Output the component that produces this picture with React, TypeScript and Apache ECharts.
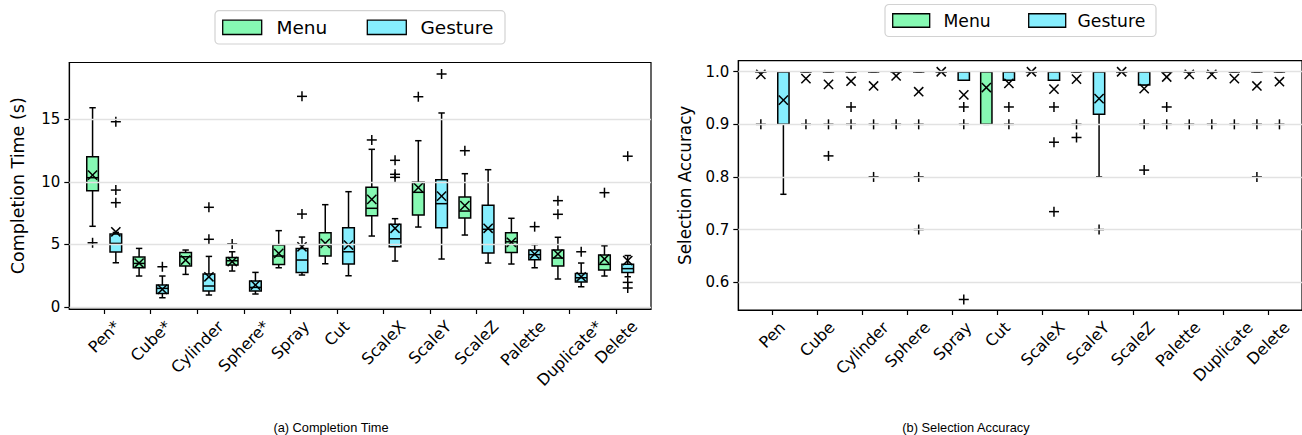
import React, { useEffect, useRef } from 'react';
import * as echarts from 'echarts';

const timeCategories = ['Pen*', 'Cube*', 'Cylinder', 'Sphere*', 'Spray', 'Cut', 'ScaleX', 'ScaleY', 'ScaleZ', 'Palette', 'Duplicate*', 'Delete'];
const accCategories = ['Pen', 'Cube', 'Cylinder', 'Sphere', 'Spray', 'Cut', 'ScaleX', 'ScaleY', 'ScaleZ', 'Palette', 'Duplicate', 'Delete'];
const seriesNames = ['Menu', 'Gesture'];

const timeTicks = [0, 5, 10, 15];
const accTicks = [0.6, 0.7, 0.8, 0.9, 1.0];

// [lower whisker, q1, median, q3, upper whisker]
const timeMenuBoxes = [
  [6.44, 9.29, 10.33, 12.01, 15.93],
  [2.46, 3.12, 3.47, 3.98, 4.67],
  [2.59, 3.26, 4.0, 4.35, 4.54],
  [2.86, 3.34, 3.68, 3.95, 4.4],
  [3.12, 3.39, 4.06, 4.94, 6.09],
  [3.44, 4.06, 4.94, 5.93, 8.17],
  [5.66, 7.29, 7.88, 9.56, 12.6],
  [6.38, 7.34, 9.16, 9.96, 13.29],
  [5.74, 7.1, 7.66, 8.78, 10.65],
  [3.42, 4.35, 5.2, 5.93, 7.08],
  [2.22, 3.26, 3.9, 4.54, 5.56],
  [2.46, 2.94, 3.39, 4.14, 4.88],
];
const timeMenuMeans = [10.54, 3.5, 3.74, 3.62, 4.27, 5.07, 8.6, 9.53, 8.09, 5.16, 4.22, 3.82];
const timeMenuOutliers = [[5.12], [], [], [5.02], [], [], [13.35], [16.81], [12.49], [], [8.49, 7.4], [9.13]];

const timeGestureBoxes = [
  [3.52, 4.38, 5.07, 5.82, 5.95],
  [0.72, 1.07, 1.47, 1.74, 2.46],
  [0.94, 1.26, 1.66, 2.62, 4.03],
  [1.02, 1.26, 1.55, 2.06, 2.75],
  [2.54, 2.75, 3.74, 4.67, 5.58],
  [2.48, 3.42, 4.4, 6.33, 9.21],
  [3.66, 4.8, 5.44, 6.6, 7.05],
  [3.82, 6.33, 8.25, 10.17, 15.51],
  [3.5, 4.3, 6.2, 8.12, 10.97],
  [3.12, 3.77, 4.17, 4.54, 4.97],
  [1.6, 1.98, 2.32, 2.67, 3.5],
  [2.4, 2.75, 3.05, 3.4, 4.1],
];
const timeGestureMeans = [6.0, 1.4, 2.4, 1.74, 4.8, 4.94, 6.28, 8.86, 6.28, 4.22, 2.4, 3.7];
const timeGestureOutliers = [[14.81, 9.34, 8.33], [3.2], [7.96, 5.4], [], [16.84, 7.42], [], [11.72, 10.6, 10.36], [18.63], [], [6.41], [4.4], [12.05, 1.95, 1.5]];

const accMenuBoxes = [
  [1, 1, 1, 1, 1],
  [1, 1, 1, 1, 1],
  [1, 1, 1, 1, 1],
  [1, 1, 1, 1, 1],
  [1, 1, 1, 1, 1],
  [0.9, 0.9, 1, 1, 1],
  [1, 1, 1, 1, 1],
  [1, 1, 1, 1, 1],
  [1, 1, 1, 1, 1],
  [1, 1, 1, 1, 1],
  [1, 1, 1, 1, 1],
  [1, 1, 1, 1, 1],
];
const accMenuMeans = [0.995, 0.987, 0.982, 0.992, 1.0, 0.97, 1.0, 0.986, 1.0, 0.99, 0.995, 0.973];
const accMenuOutliers = [[0.9], [0.9], [0.933, 0.9], [0.9], [], [], [], [0.9, 0.875], [], [0.933, 0.9], [0.9], [0.9, 0.8]];

const accGestureBoxes = [
  [0.767, 0.9, 1, 1, 1],
  [1, 1, 1, 1, 1],
  [1, 1, 1, 1, 1],
  [1, 1, 1, 1, 1],
  [0.984, 0.984, 1, 1, 1],
  [0.984, 0.984, 1, 1, 1],
  [0.984, 0.984, 1, 1, 1],
  [0.8, 0.919, 1, 1, 1],
  [0.975, 0.975, 1, 1, 1],
  [1, 1, 1, 1, 1],
  [1, 1, 1, 1, 1],
  [1, 1, 1, 1, 1],
];
const accGestureMeans = [0.946, 0.976, 0.973, 0.962, 0.956, 0.978, 0.967, 0.949, 0.968, 0.995, 0.987, 0.981];
const accGestureOutliers = [[], [0.9, 0.84], [0.9, 0.8], [0.9, 0.8, 0.7], [0.933, 0.9, 0.567], [0.933, 0.9], [0.933, 0.866, 0.734], [0.7], [0.9, 0.813], [0.9], [0.9], [0.9]];

const MENU_COLOR = '#86F9B3';
const GESTURE_COLOR = '#86EEFE';
const BOX_W = 0.25;
const OFFSETS = [-0.25, 0.25];
const FONT = '"DejaVu Sans", sans-serif';

const boxItems = (boxes: number[][], off: number) => boxes.map((b, i) => [i + 1 + off, ...b]);
const pointItems = (vals: number[], off: number) => vals.map((v, i) => [i + 1 + off, v]);
const outlierItems = (lists: number[][], off: number) => {
  const out: number[][] = [];
  lists.forEach((l, i) => l.forEach((v) => out.push([i + 1 + off, v])));
  return out;
};

const renderBox = (params: any, api: any) => {
  const x = api.value(0);
  const low = api.value(1), q1 = api.value(2), med = api.value(3), q3 = api.value(4), high = api.value(5);
  const half = api.size([BOX_W, 0])[0] / 2;
  const capHalf = half * 0.55;
  const pLow = api.coord([x, low]);
  const pQ1 = api.coord([x, q1]);
  const pMed = api.coord([x, med]);
  const pQ3 = api.coord([x, q3]);
  const pHigh = api.coord([x, high]);
  const cx = pMed[0];
  const st = { stroke: '#000', lineWidth: 1.5 };
  return {
    type: 'group',
    children: [
      { type: 'line', shape: { x1: cx, y1: pQ3[1], x2: cx, y2: pHigh[1] }, style: st },
      { type: 'line', shape: { x1: cx, y1: pQ1[1], x2: cx, y2: pLow[1] }, style: st },
      { type: 'line', shape: { x1: cx - capHalf, y1: pHigh[1], x2: cx + capHalf, y2: pHigh[1] }, style: st },
      { type: 'line', shape: { x1: cx - capHalf, y1: pLow[1], x2: cx + capHalf, y2: pLow[1] }, style: st },
      {
        type: 'rect',
        shape: { x: cx - half, y: pQ3[1], width: 2 * half, height: pQ1[1] - pQ3[1] },
        style: { fill: api.visual('color'), stroke: '#000', lineWidth: 1.5 },
      },
      { type: 'line', shape: { x1: cx - half, y1: pMed[1], x2: cx + half, y2: pMed[1] }, style: st },
    ],
  };
};

const renderMarker = (kind: string) => (params: any, api: any) => {
  const p = api.coord([api.value(0), api.value(1)]);
  const st = { stroke: '#000', lineWidth: 1.5 };
  if (kind === 'x') {
    const s = 4.6;
    return {
      type: 'group',
      children: [
        { type: 'line', shape: { x1: p[0] - s, y1: p[1] - s, x2: p[0] + s, y2: p[1] + s }, style: st },
        { type: 'line', shape: { x1: p[0] - s, y1: p[1] + s, x2: p[0] + s, y2: p[1] - s }, style: st },
      ],
    };
  }
  const s = 5;
  return {
    type: 'group',
    children: [
      { type: 'line', shape: { x1: p[0] - s, y1: p[1], x2: p[0] + s, y2: p[1] }, style: st },
      { type: 'line', shape: { x1: p[0], y1: p[1] - s, x2: p[0], y2: p[1] + s }, style: st },
    ],
  };
};

const chartSeries = (k: number, boxesArr: number[][][], meansArr: number[][], outArr: number[][][], ticks: number[]) => {
  const list: any[] = [
    {
      type: 'line',
      xAxisIndex: k,
      yAxisIndex: k,
      data: [],
      z: 0,
      markLine: {
        silent: true,
        symbol: ['none', 'none'],
        label: { show: false },
        lineStyle: { color: '#e2e2e2', width: 1.3, type: 'solid' },
        data: ticks.map((t) => ({ yAxis: t })),
      },
    },
  ];
  [0, 1].forEach((s) => {
    list.push({
      type: 'custom',
      name: seriesNames[s],
      xAxisIndex: k,
      yAxisIndex: k,
      z: 3,
      itemStyle: { color: s === 0 ? MENU_COLOR : GESTURE_COLOR },
      renderItem: renderBox,
      encode: { x: 0, y: [1, 2, 3, 4, 5] },
      data: boxItems(boxesArr[s], OFFSETS[s]),
    });
    list.push({
      type: 'custom',
      name: seriesNames[s] + ' mean',
      xAxisIndex: k,
      yAxisIndex: k,
      z: 4,
      renderItem: renderMarker('x'),
      encode: { x: 0, y: 1 },
      data: pointItems(meansArr[s], OFFSETS[s]),
    });
    list.push({
      type: 'custom',
      name: seriesNames[s] + ' outliers',
      xAxisIndex: k,
      yAxisIndex: k,
      z: 4,
      renderItem: renderMarker('+'),
      encode: { x: 0, y: 1 },
      data: outlierItems(outArr[s], OFFSETS[s]),
    });
  });
  return list;
};

const catTicks = timeCategories.map((_, i) => i + 1);

const xAxisBase = (k: number) => ({
  type: 'value',
  gridIndex: k,
  min: 0.25,
  max: 12.75,
  axisLine: { show: true, onZero: false, lineStyle: { color: '#000', width: 1.2 } },
  axisTick: { show: true, length: 5, customValues: catTicks, lineStyle: { color: '#000', width: 1.2 } },
  axisLabel: { show: false },
  splitLine: { show: false },
});

export default function App() {
  const ref = useRef<HTMLDivElement>(null);
  useEffect(() => {
    if (!ref.current) return;
    const chart = echarts.init(ref.current, undefined, { renderer: 'svg' });
    const option: any = {
      animation: false,
      grid: [
        { left: 69.3, right: 1302 - 651, top: 62.5, bottom: 435 - 309, show: true, borderColor: '#000', borderWidth: 1.2 },
        { left: 738.3, right: -3, top: 60.7, bottom: 435 - 310, show: true, borderColor: '#000', borderWidth: 1.2 },
      ],
      xAxis: [xAxisBase(0), xAxisBase(1)],
      yAxis: [
        {
          type: 'value',
          gridIndex: 0,
          min: -0.18,
          max: 19.55,
          axisLine: { show: true, lineStyle: { color: '#000', width: 1.2 } },
          axisTick: { show: true, length: 5, customValues: timeTicks, lineStyle: { color: '#000', width: 1.2 } },
          axisLabel: { customValues: timeTicks, color: '#000', fontSize: 15, fontFamily: FONT, margin: 9 },
          splitLine: { show: false },
          name: 'Completion Time (s)',
          nameLocation: 'middle',
          nameGap: 42,
          nameTextStyle: { color: '#000', fontSize: 17.5, fontFamily: FONT },
        },
        {
          type: 'value',
          gridIndex: 1,
          min: 0.547,
          max: 1.021,
          axisLine: { show: true, lineStyle: { color: '#000', width: 1.2 } },
          axisTick: { show: true, length: 5, customValues: accTicks, lineStyle: { color: '#000', width: 1.2 } },
          axisLabel: {
            customValues: accTicks,
            color: '#000',
            fontSize: 15,
            fontFamily: FONT,
            margin: 9,
            formatter: (v: number) => v.toFixed(1),
          },
          splitLine: { show: false },
          name: 'Selection Accuracy',
          nameLocation: 'middle',
          nameGap: 45,
          nameTextStyle: { color: '#000', fontSize: 16.8, fontFamily: FONT },
        },
      ],
      series: [
        ...chartSeries(0, [timeMenuBoxes, timeGestureBoxes], [timeMenuMeans, timeGestureMeans], [timeMenuOutliers, timeGestureOutliers], timeTicks),
        ...chartSeries(1, [accMenuBoxes, accGestureBoxes], [accMenuMeans, accGestureMeans], [accMenuOutliers, accGestureOutliers], accTicks),
      ],
    };
    chart.setOption(option);

    // rotated category labels, centred under each tick like matplotlib
    const canvas = document.createElement('canvas');
    const ctx = canvas.getContext('2d') as CanvasRenderingContext2D;
    const labelSize = 16;
    ctx.font = `${labelSize}px "DejaVu Sans"`;
    const graphics: any[] = [];
    const yMins = [-0.18, 0.547];
    [timeCategories, accCategories].forEach((cats, k) => {
      cats.forEach((c, i) => {
        const p = chart.convertToPixel({ gridIndex: k }, [i + 1, yMins[k]]) as number[];
        const w = ctx.measureText(c).width;
        const h = labelSize;
        const cy = p[1] + 9 + (w + h) / (2 * Math.SQRT2);
        graphics.push({
          type: 'text',
          x: p[0],
          y: cy,
          rotation: Math.PI / 4,
          silent: true,
          style: { text: c, fill: '#000', font: `${labelSize}px ${FONT}`, align: 'center', verticalAlign: 'middle' },
        });
      });
    });

    // legends
    const legend = (bx: number, by: number, bw: number, bh: number, px: number[], tx: number[], pw: number, ph: number, fs: number) => {
      const cyL = by + bh / 2;
      graphics.push({
        type: 'rect',
        shape: { x: bx, y: by, width: bw, height: bh, r: 4 },
        style: { fill: '#fff', stroke: '#d2d2d2', lineWidth: 1.2 },
        silent: true,
      });
      seriesNames.forEach((n, s) => {
        graphics.push({
          type: 'rect',
          shape: { x: px[s], y: cyL - ph / 2, width: pw, height: ph },
          style: { fill: s === 0 ? MENU_COLOR : GESTURE_COLOR, stroke: '#000', lineWidth: 1.3 },
          silent: true,
        });
        graphics.push({
          type: 'text',
          x: tx[s],
          y: cyL,
          silent: true,
          style: { text: n, fill: '#000', font: `${fs}px ${FONT}`, align: 'left', verticalAlign: 'middle' },
        });
      });
    };
    legend(215, 10.7, 290, 33.3, [222.7, 367.3], [276.5, 420.5], 39, 14.3, 18.5);
    legend(885, 4.5, 271, 32, [892.7, 1028.7], [943.5, 1077.5], 37, 13.5, 17.2);

    // captions
    graphics.push({
      type: 'text',
      x: 331,
      y: 427,
      silent: true,
      style: { text: '(a) Completion Time', fill: '#000', font: '12.8px "Liberation Sans", Arial, sans-serif', align: 'center', verticalAlign: 'middle' },
    });
    graphics.push({
      type: 'text',
      x: 966,
      y: 427,
      silent: true,
      style: { text: '(b) Selection Accuracy', fill: '#000', font: '12.8px "Liberation Sans", Arial, sans-serif', align: 'center', verticalAlign: 'middle' },
    });

    chart.setOption({ graphic: graphics });
    return () => chart.dispose();
  }, []);
  return <div ref={ref} style={{ position: 'absolute', left: 0, top: 0, width: 1302, height: 435, background: '#fff' }} />;
}
